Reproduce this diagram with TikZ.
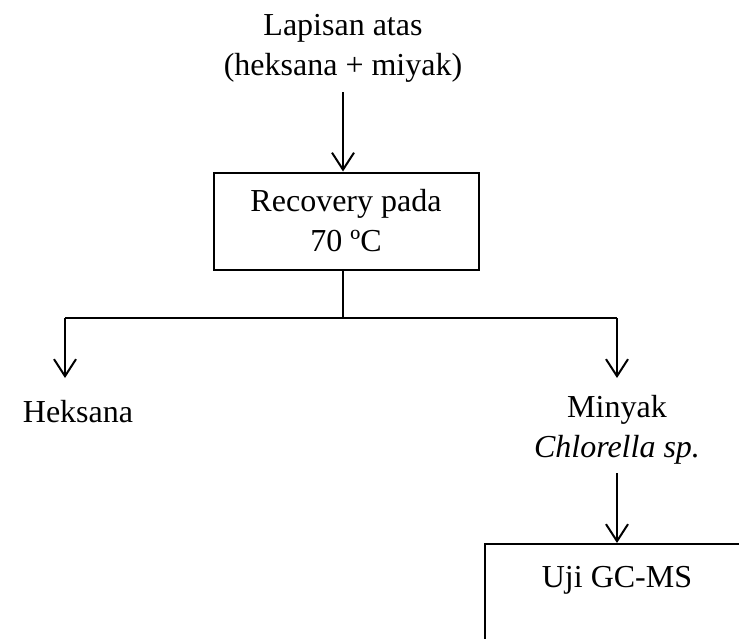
\documentclass[tikz,border=0pt]{standalone}
\usepackage{fontspec}
\setmainfont{Liberation Serif}
\usetikzlibrary{arrows.meta}
\begin{document}
\begin{tikzpicture}[x=1pt,y=-1pt,
  every node/.style={font=\fontsize{32}{40}\selectfont, inner sep=0pt},
  txt/.style={align=center},
  boxnode/.style={draw, line width=2pt, align=center},
  ln/.style={line width=2pt},
  arr/.style={line width=2pt, -{Straight Barb[length=17pt,width=22pt,line width=2pt]}}]
\useasboundingbox (0,0) rectangle (739,638);
\clip (0,0) rectangle (739,638);
\node[txt] (top) at (343,48) {Lapisan atas\\(heksana + miyak)};
\node[boxnode, minimum width=265pt, minimum height=97pt] (rec) at (346,221) {Recovery pada\\70 ºC};
\coordinate (j) at (343,318);
\coordinate (jl) at (65,318);
\coordinate (jr) at (617,318);
\node[txt, anchor=center] (hek) at (78,412) {Heksana};
\node[txt] (min) at (617,430) {Minyak\\\textit{Chlorella sp.}};
\node[boxnode, minimum width=266pt, minimum height=120pt, anchor=north west] (uji) at (484,543) {};
\node[txt] (ujit) at (617,580) {Uji GC-MS};
\draw[arr] (343,92) -- (rec.north -| 343,0) ;
\draw[ln] (rec.south -| j) -- (j);
\draw[ln] (jl) -- (jr);
\draw[arr] (jl) -- (65,378);
\draw[arr] (jr) -- (617,378);
\draw[arr] (617,473) -- (uji.north -| 617,0);
\end{tikzpicture}
\end{document}
